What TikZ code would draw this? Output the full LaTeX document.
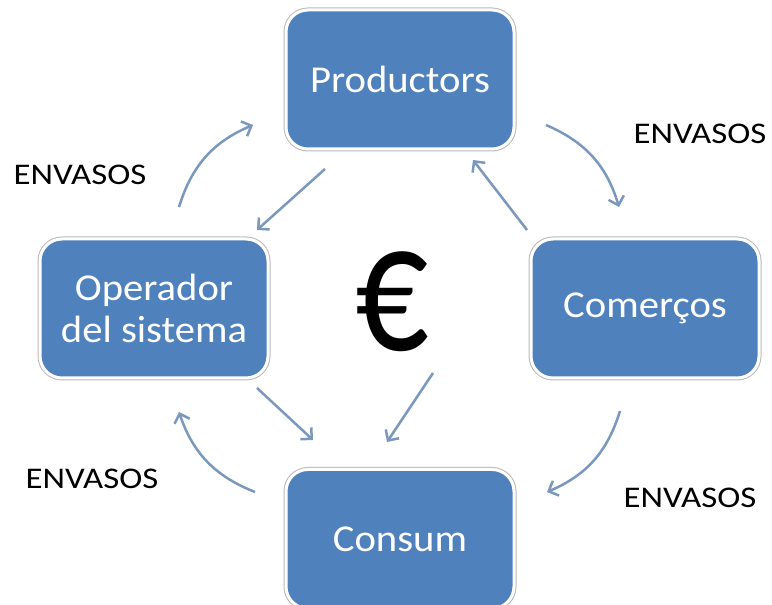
\documentclass[tikz,border=0pt]{standalone}
\usepackage{fontspec}
\setmainfont{Carlito}[FakeStretch=1.07]
\newfontfamily\etiqfont{Carlito}[FakeStretch=1.16]
\newfontfamily\eurofont{Carlito}[FakeStretch=0.78]
\usetikzlibrary{arrows.meta}
\definecolor{boxblue}{RGB}{79,129,189}
\definecolor{arrowblue}{RGB}{122,152,190}

\begin{document}
\begin{tikzpicture}[x=1pt,y=1pt,
		caixa/.style={rectangle,rounded corners=22pt,fill=boxblue,draw=white,line width=3pt,
			preaction={draw=black!28,line width=5pt},minimum width=228pt,minimum height=139pt,
			outer sep=0pt,text=white,font=\fontsize{38}{42}\selectfont,align=center},
		fletxa/.style={draw=arrowblue,line width=2.5pt,-{Straight Barb[length=8pt,width=16pt]}},
		etiqueta/.style={font=\etiqfont\fontsize{30}{34}\selectfont}]
			\useasboundingbox (0,0) rectangle (772,605);
			\clip (0,0) rectangle (772,605);

			\node[caixa] (prod) at (400,525.5) {Productors};
			\node[caixa] (oper) at (154,296.5) {Operador\\del sistema};
			\node[caixa] (com) at (645,296.5) {Comerços};
			\node[caixa] (cons) at (400,66) {Consum};
			\node[font=\eurofont\fontsize{186}{186}\selectfont] (euro) at (392,303) {€};

			% cicle dels envasos
			\draw[fletxa] ([shift={(25,32)}]oper.north) to[bend left=25] ([shift={(-33,-45.5)}]prod.west);
			\draw[fletxa] ([shift={(32,-45.5)}]prod.east) to[bend left=25] ([shift={(-26,32)}]com.north);
			\draw[fletxa] ([shift={(-25,-33)}]com.south) to[bend left=25] ([shift={(33,47)}]cons.east);
			\draw[fletxa] ([shift={(-31,47)}]cons.west) to[bend left=25] ([shift={(25,-34)}]oper.south);

			% diners
			\draw[fletxa] ([shift={(39,-20)}]prod.south west) -- ([shift={(-11,9)}]oper.north east);
			\draw[fletxa] ([shift={(-4,9)}]com.north west) -- ([shift={(-41,-11)}]prod.south east);
			\draw[fletxa] ([shift={(-11,-10)}]oper.south east) -- ([shift={(27,29.5)}]cons.north west);
			\draw[fletxa] ([shift={(41,-71)}]euro.center) -- ([shift={(-13,27.5)}]cons.north);

			\node[etiqueta] (env1) at (80,430) {ENVASOS};
			\node[etiqueta] (env2) at (700,471) {ENVASOS};
			\node[etiqueta] (env3) at (92,126) {ENVASOS};
			\node[etiqueta] (env4) at (690,107) {ENVASOS};
		\end{tikzpicture}
\end{document}
